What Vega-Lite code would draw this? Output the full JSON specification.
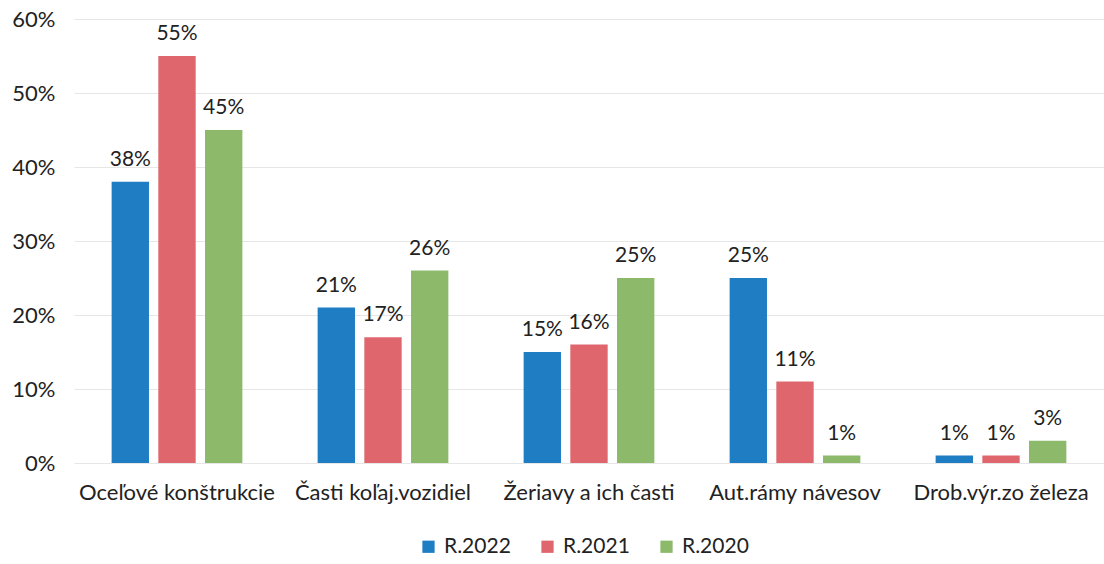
{
  "$schema": "https://vega.github.io/schema/vega-lite/v6.json",
  "autosize": "none",
  "padding": {"left": 74, "top": 19, "right": 0, "bottom": 101},
  "width": 1030,
  "height": 444,
  "background": "white",
  "config": {
    "font": "Lato",
    "view": {"stroke": null}
  },
  "data": {
    "values": [
      {"kat": "Oceľové konštrukcie", "rok": "R.2022", "v": 0.38},
      {"kat": "Oceľové konštrukcie", "rok": "R.2021", "v": 0.55},
      {"kat": "Oceľové konštrukcie", "rok": "R.2020", "v": 0.45},
      {"kat": "Časti koľaj.vozidiel", "rok": "R.2022", "v": 0.21},
      {"kat": "Časti koľaj.vozidiel", "rok": "R.2021", "v": 0.17},
      {"kat": "Časti koľaj.vozidiel", "rok": "R.2020", "v": 0.26},
      {"kat": "Žeriavy a ich časti", "rok": "R.2022", "v": 0.15},
      {"kat": "Žeriavy a ich časti", "rok": "R.2021", "v": 0.16},
      {"kat": "Žeriavy a ich časti", "rok": "R.2020", "v": 0.25},
      {"kat": "Aut.rámy návesov", "rok": "R.2022", "v": 0.25},
      {"kat": "Aut.rámy návesov", "rok": "R.2021", "v": 0.11},
      {"kat": "Aut.rámy návesov", "rok": "R.2020", "v": 0.01},
      {"kat": "Drob.výr.zo železa", "rok": "R.2022", "v": 0.01},
      {"kat": "Drob.výr.zo železa", "rok": "R.2021", "v": 0.01},
      {"kat": "Drob.výr.zo železa", "rok": "R.2020", "v": 0.03}
    ]
  },
  "encoding": {
    "x": {
      "field": "kat", "type": "nominal", "sort": null,
      "scale": {"paddingInner": 0.32, "paddingOuter": 0.16},
      "axis": {"title": null, "labelAngle": 0, "labelFontSize": 22, "labelColor": "#222", "labelPadding": 19, "labelLimit": 400, "labelOverlap": false, "domain": false, "ticks": false}
    },
    "xOffset": {
      "field": "rok", "type": "nominal", "sort": ["R.2022", "R.2021", "R.2020"],
      "scale": {"paddingInner": 0.2, "paddingOuter": 0.1}
    },
    "y": {
      "field": "v", "type": "quantitative",
      "scale": {"domain": [0, 0.6]},
      "axis": {"title": null, "format": ".0%", "values": [0, 0.1, 0.2, 0.3, 0.4, 0.5, 0.6], "labelFontSize": 22, "labelColor": "#222", "labelPadding": 19, "domain": false, "ticks": false, "gridColor": "#e6e6e6", "gridWidth": 1}
    }
  },
  "layer": [
    {
      "mark": {"type": "bar"},
      "encoding": {
        "color": {
          "field": "rok", "type": "nominal", "sort": ["R.2022", "R.2021", "R.2020"],
          "scale": {"domain": ["R.2022", "R.2021", "R.2020"], "range": ["#1f7dc4", "#e0666e", "#8db96b"]},
          "legend": {"title": null, "orient": "none", "legendX": 344, "legendY": 517, "direction": "horizontal", "symbolType": "square", "symbolSize": 150, "symbolStrokeWidth": 0, "labelFontSize": 21, "labelColor": "#222", "columnPadding": 26, "labelOffset": 5}
        }
      }
    },
    {
      "mark": {"type": "text", "dy": -22, "fontSize": 21, "color": "#222"},
      "encoding": {"text": {"field": "v", "format": ".0%"}}
    }
  ]
}
